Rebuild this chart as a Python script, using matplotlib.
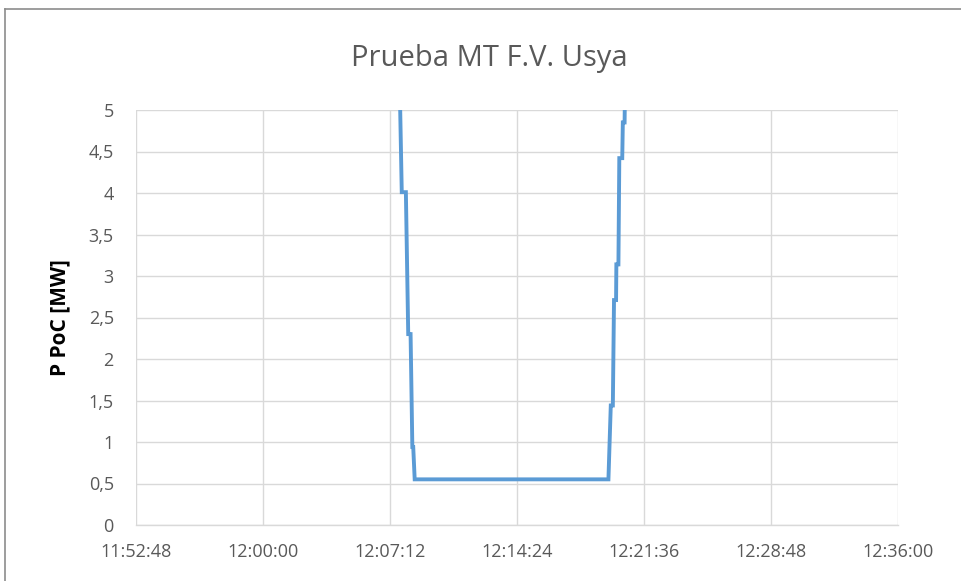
import matplotlib
matplotlib.use("Agg")
import matplotlib.pyplot as plt
from matplotlib.ticker import MultipleLocator, FuncFormatter
import pandas as pd

# P PoC readings (MW)
times = [
    "12:07:44", "12:07:52", "12:08:06", "12:08:14", "12:08:22", "12:08:28",
    "12:08:31", "12:08:36", "12:19:35", "12:19:43", "12:19:50", "12:19:54",
    "12:20:01", "12:20:02", "12:20:09", "12:20:12", "12:20:22", "12:20:24",
    "12:20:30", "12:20:32",
]
p_poc = [
    5.5, 4.01, 4.01, 2.30, 2.30, 0.94,
    0.94, 0.55, 0.55, 1.44, 1.44, 2.71,
    2.71, 3.14, 3.14, 4.42, 4.42, 4.85,
    4.85, 5.5,
]
x_start, x_end = "11:52:48", "12:36:00"
y_ticks = [0, 0.5, 1, 1.5, 2, 2.5, 3, 3.5, 4, 4.5, 5]

title = "Prueba MT F.V. Usya"
ylabel = "P PoC [MW]"


def day_frac(s):
    return pd.to_timedelta(s).total_seconds() / 86400.0


x = [day_frac(t) for t in times]

plt.rcParams["font.family"] = ["Open Sans", "DejaVu Sans"]
grey_txt = "#595959"
grid_col = "#d9d9d9"

fig = plt.figure(figsize=(9.61, 5.81), dpi=100)
ax = fig.add_axes([136 / 961, 1 - 525 / 581, (898 - 136) / 961, (525 - 110) / 581])

ax.plot(x, p_poc, color="#5B9BD5", linewidth=2.8, solid_joinstyle="miter")

ax.set_xlim(day_frac(x_start), day_frac(x_end))
ax.set_ylim(0, 5)
ax.xaxis.set_major_locator(MultipleLocator(432 / 86400.0))
ax.set_yticks(y_ticks)


def fmt_time(v, pos):
    s = int(round(v * 86400))
    return "%d:%02d:%02d" % (s // 3600, (s % 3600) // 60, s % 60)


def fmt_y(v, pos):
    return ("%g" % v).replace(".", ",")


ax.xaxis.set_major_formatter(FuncFormatter(fmt_time))
ax.yaxis.set_major_formatter(FuncFormatter(fmt_y))

ax.grid(True, color=grid_col, linewidth=1.0)
ax.set_axisbelow(True)
for side in ["top", "right", "left"]:
    ax.spines[side].set_visible(False)
ax.spines["bottom"].set_color(grid_col)
ax.spines["bottom"].set_linewidth(1.0)
ax.tick_params(length=0, labelsize=13, labelcolor=grey_txt)
ax.tick_params(axis="x", pad=13)
ax.tick_params(axis="y", pad=16)

fig.text(489 / 961, 1 - 66 / 581, title, ha="center", va="baseline",
         fontsize=21, color=grey_txt)
fig.text(60 / 961, 1 - 318 / 581, ylabel, ha="center", va="center",
         rotation=90, fontsize=15, fontweight="bold", color="black")

# outer chart frame (only top and left edges fall inside the image)
fig.add_artist(plt.Line2D([5 / 961, 1.0], [1 - 9 / 581, 1 - 9 / 581],
                          transform=fig.transFigure, color="#8c8c8c", linewidth=1.2))
fig.add_artist(plt.Line2D([5 / 961, 5 / 961], [0.0, 1 - 9 / 581],
                          transform=fig.transFigure, color="#8c8c8c", linewidth=1.2))

fig.savefig("out.png", dpi=100)
